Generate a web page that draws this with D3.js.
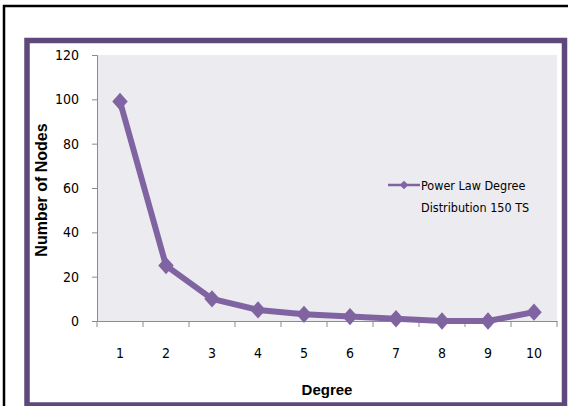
<!DOCTYPE html>
<html>
<head>
<meta charset="utf-8">
<script src="https://cdn.jsdelivr.net/npm/d3@7"></script>
<style>
    html, body { margin: 0; padding: 0; background: #fff; }
    svg { display: block; }
    text { font-family: "DejaVu Sans Condensed", "DejaVu Sans", sans-serif; fill: #000; }
    .title { font-family: "Liberation Sans", Arial, sans-serif; font-weight: bold; }
</style>
</head>
<body>
<div id="chart"></div>
<script>
const degrees = [1, 2, 3, 4, 5, 6, 7, 8, 9, 10];
const nodeCounts = [99, 25, 10, 5, 3, 2, 1, 0, 0, 4];
const yTicks = [0, 20, 40, 60, 80, 100, 120];
const seriesName = ['Power Law Degree', 'Distribution 150 TS'];

const width = 568, height = 406;
const padding = {left: 97, top: 55, right: 11, bottom: 85};
const w = width - padding.left - padding.right,
    h = height - padding.top - padding.bottom;
const lineColor = '#8064a2';

const svg = d3.select('#chart')
    .append('svg')
    .attr('width', width)
    .attr('height', height);

// outer black frame and purple chart border
svg.append('rect')
    .attr('x', 4).attr('y', 6)
    .attr('width', width + 10).attr('height', height + 10)
    .attr('fill', 'none')
    .attr('stroke', '#000')
    .attr('stroke-width', 2.5);
svg.append('rect')
    .attr('x', 27).attr('y', 40.5)
    .attr('width', 537.5).attr('height', 364.5)
    .attr('fill', '#fff')
    .attr('stroke', '#5f497a')
    .attr('stroke-width', 5.5);

const group = svg.append('g')
    .attr('transform', `translate(${padding.left}, ${padding.top})`);

group.append('rect')
    .attr('width', w)
    .attr('height', h)
    .attr('fill', '#ecebf0');

const xScale = d3.scaleBand()
    .domain(degrees)
    .range([0, w]);
const yScale = d3.scaleLinear()
    .domain([0, 120])
    .range([h, 0]);

// y axis
const yAxis = d3.axisLeft(yScale)
    .tickValues(yTicks)
    .tickSizeInner(5)
    .tickSizeOuter(5)
    .tickPadding(13);
const y_axis = group.append('g').attr('class', 'y-axis').call(yAxis);
y_axis.select('.domain').attr('stroke', '#8c8c8c');
y_axis.selectAll('.tick line').attr('stroke', '#8c8c8c');
y_axis.selectAll('.tick text')
    .attr('font-size', 14)
    .attr('font-family', null);

// x axis, ticks at band boundaries
const xAxis = d3.axisBottom(xScale)
    .tickSize(0)
    .tickPadding(27);
const x_axis = group.append('g')
    .attr('class', 'x-axis')
    .attr('transform', `translate(0, ${h})`)
    .call(xAxis);
x_axis.select('.domain').attr('stroke', '#8c8c8c');
x_axis.selectAll('.tick text')
    .attr('font-size', 14)
    .attr('font-family', null);
x_axis.selectAll('.bound')
    .data(degrees.concat(['end']))
    .join('line')
    .attr('class', 'bound')
    .attr('x1', d => d === 'end' ? w : xScale(d))
    .attr('x2', d => d === 'end' ? w : xScale(d))
    .attr('y1', 0)
    .attr('y2', 6)
    .attr('stroke', '#8c8c8c');

// axis titles
svg.append('text')
    .attr('class', 'title')
    .attr('transform', `translate(47, ${padding.top + h / 2 + 2}) rotate(-90)`)
    .attr('text-anchor', 'middle')
    .attr('font-size', 16)
    .text('Number of Nodes');
svg.append('text')
    .attr('class', 'title')
    .attr('x', padding.left + w / 2)
    .attr('y', 395)
    .attr('text-anchor', 'middle')
    .attr('font-size', 15)
    .text('Degree');

// main line
const xAt = d => xScale(d) + xScale.bandwidth() / 2;
const line = d3.line()
    .x((d, i) => xAt(degrees[i]))
    .y(d => yScale(d));
group.append('path')
    .datum(nodeCounts)
    .attr('d', line)
    .attr('fill', 'none')
    .attr('stroke', lineColor)
    .attr('stroke-width', 6)
    .attr('stroke-linejoin', 'round');

const diamond = d3.symbol().type(d3.symbolSquare).size(120);
group.selectAll('.marker')
    .data(nodeCounts)
    .join('path')
    .attr('class', 'marker')
    .attr('d', diamond)
    .attr('transform', (d, i) => `translate(${xAt(degrees[i])}, ${yScale(d)}) scale(1, 1.12) rotate(45)`)
    .attr('fill', lineColor);

// legend
const legend = svg.append('g').attr('transform', 'translate(388, 185)');
legend.append('line')
    .attr('x1', 0).attr('x2', 32)
    .attr('stroke', lineColor)
    .attr('stroke-width', 2.5);
legend.append('path')
    .attr('d', d3.symbol().type(d3.symbolSquare).size(36))
    .attr('transform', 'translate(16, 0) rotate(45)')
    .attr('fill', lineColor);
legend.selectAll('.legend-text')
    .data(seriesName)
    .join('text')
    .attr('class', 'legend-text')
    .attr('x', 33)
    .attr('y', (d, i) => 5 + i * 22)
    .attr('font-size', 12.5)
    .text(d => d);
</script>
</body>
</html>
